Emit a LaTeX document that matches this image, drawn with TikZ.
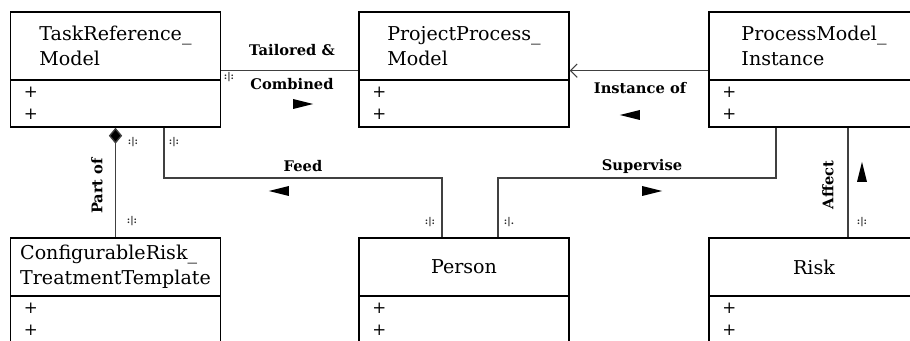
\documentclass[tikz,border=0pt]{standalone}
\usepackage{fontspec}
\setmainfont{DejaVu Serif}
\usetikzlibrary{arrows.meta,shapes.geometric}

\tikzset{every picture/.style={line width=0.75pt}}
\tikzset{
  classhead/.style={draw, line width=1.1pt, minimum width=157.5pt, minimum height=#1, inner sep=0pt, align=left, font=\fontsize{14.3}{18.75}\selectfont},
  classbody/.style={draw, line width=1.1pt, minimum width=157.5pt, minimum height=35.25pt, text width=137.5pt, inner xsep=10pt, inner ysep=0pt, align=left, font=\fontsize{12.5}{16.5}\selectfont},
  assoc/.style={line width=1pt, draw=black!75},
  rolelabel/.style={inner sep=0.75pt, font=\bfseries\fontsize{11}{13}\selectfont},
  multlabel/.style={inner sep=0.75pt, font=\bfseries\fontsize{7}{8}\selectfont, text=black!85},
  dirmark/.style={isosceles triangle, isosceles triangle stretches, fill=black, inner sep=0pt, minimum height=15pt, minimum width=7.5pt, shape border rotate=#1}
}

\begin{document}
\begin{tikzpicture}[x=0.75pt,y=0.75pt,yscale=-1,xscale=1]
\useasboundingbox (0,0) rectangle (910,341);

%Classes, top row
\node (taskhead) [classhead=51pt] at (115.5,46) {TaskReference\_\\Model};
\node (taskbody) [classbody] at (115.5,103.5) {+\\+};
\node (projhead) [classhead=51pt] at (464,46) {ProjectProcess\_\\Model};
\node (projbody) [classbody] at (464,103.5) {+\\+};
\node (insthead) [classhead=51pt] at (814,46) {ProcessModel\_\\Instance};
\node (instbody) [classbody] at (814,103.5) {+\\+};

%Classes, bottom row
\node (confhead) [classhead=43.5pt] at (115.5,267) {ConfigurableRisk\_\\TreatmentTemplate};
\node (confbody) [classbody] at (115.5,319.5) {+\\+};
\node (personhead) [classhead=43.5pt] at (464,267) {Person};
\node (personbody) [classbody] at (464,319.5) {+\\+};
\node (riskhead) [classhead=43.5pt] at (814,267) {Risk};
\node (riskbody) [classbody] at (814,319.5) {+\\+};

%Connector end points
\coordinate (linkrow) at (0,178);
\coordinate (feedtop) at ([xshift=36.4pt]taskbody.south);
\coordinate (feedbot) at ([xshift=-16.5pt]personhead.north);
\coordinate (supbot) at ([xshift=25.5pt]personhead.north);
\coordinate (suptop) at ([xshift=-28.5pt]instbody.south);
\coordinate (affecttop) at ([xshift=25.5pt]instbody.south);
\coordinate (affectbot) at ([xshift=25.5pt]riskhead.north);

%Tailored & Combined
\draw[assoc] ([yshift=-7.5pt]taskhead.south east) -- ([yshift=-7.5pt]projhead.south west);
%Instance of
\draw[assoc, -{Straight Barb[length=5pt,width=10pt,line width=0.8pt]}] ([yshift=-7.5pt]insthead.south west) -- ([yshift=-7.5pt]projhead.south east);
%Part of
\draw[assoc, {Diamond[length=12pt,width=10pt,fill=black]}-] (taskbody.south) -- (confhead.north);
%Feed
\draw[assoc] (feedtop) -- (feedtop |- linkrow) -- (feedbot |- linkrow) -- (feedbot);
%Supervise
\draw[assoc] (supbot) -- (supbot |- linkrow) -- (suptop |- linkrow) -- (suptop);
%Affect
\draw[assoc] (affectbot) -- (affecttop);

% Text Node
\node (tailorlbl) [rolelabel] at (292,50) {Tailored \&};
\node (combinelbl) [rolelabel] at (292,84) {Combined};
\node (tailordir) [dirmark=0] at (297,104) {};
\node (instlbl) [rolelabel] at (640,88) {Instance of};
\node (instdir) [dirmark=180] at (636,115) {};
\node (partlbl) [rolelabel, rotate=90] at (97,186) {Part of};
\node (feedlbl) [rolelabel] at (303,166) {Feed};
\node (feeddir) [dirmark=180] at (285,191) {};
\node (suplbl) [rolelabel] at (642,166) {Supervise};
\node (supdir) [dirmark=0] at (646,191) {};
\node (affectlbl) [rolelabel, rotate=90] at (828,185) {Affect};
\node (affectdir) [dirmark=90] at (862,178) {};

% Multiplicities
\node (multtask) [multlabel] at (229,77) {:|:};
\node (multpart) [multlabel] at (133,142) {:|:};
\node (multconf) [multlabel] at (132,221) {:|:};
\node (multfeed) [multlabel] at (174,142) {:|:};
\node (multperson) [multlabel] at (430,222) {:|:};
\node (multsup) [multlabel] at (509,222) {:|.};
\node (multrisk) [multlabel] at (862,222) {:|:};
\end{tikzpicture}
\end{document}
